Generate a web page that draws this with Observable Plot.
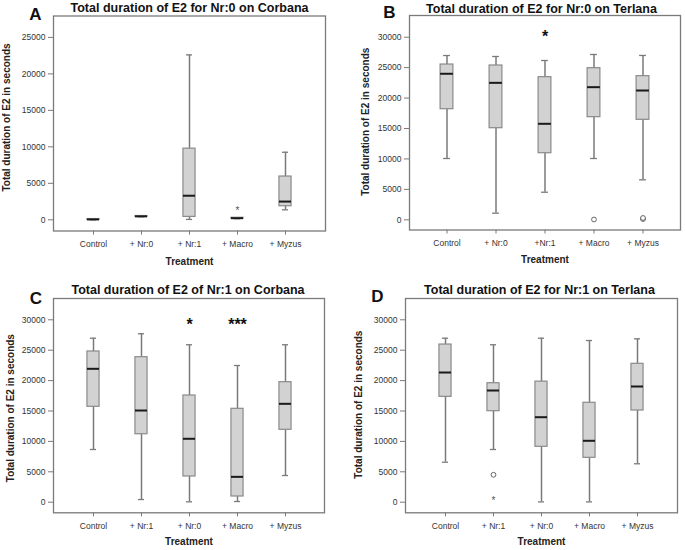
<!DOCTYPE html>
<html><head><meta charset="utf-8">
<script src="https://cdn.jsdelivr.net/npm/d3@7"></script>
<script src="https://cdn.jsdelivr.net/npm/@observablehq/plot@0.6"></script>
<style>
body{margin:0;background:#fff;}
#wrap{position:relative;width:685px;height:550px;overflow:hidden;background:#fff;}
.panel{position:absolute;width:342px;height:275px;}
</style></head><body><div id="wrap"></div>
<script>
// ---------- Data ----------
const yLabel = "Total duration of E2 in seconds";
const xLabel = "Treatment";
const ticksA = [0, 5000, 10000, 15000, 20000, 25000];
const ticksBCD = [0, 5000, 10000, 15000, 20000, 25000, 30000];

// Panel A
const titleA = "Total duration of E2 for Nr:0 on Corbana";
const catsA = ["Control", "+ Nr:0", "+ Nr:1", "+ Macro", "+ Myzus"];
const lowA  = [0, 420, 50, 150, 1370];
const q1A   = [0, 420, 400, 150, 1860];
const medA  = [50, 470, 3300, 220, 2500];
const q3A   = [100, 520, 9750, 280, 5930];
const highA = [100, 520, 22600, 280, 9260];
const outCatA = ["+ Macro"];
const outValA = [1500];
const outSymA = ["*"];
const annCatA = [];
const annValA = [];
const annTextA = [];

// Panel B
const titleB = "Total duration of E2 for Nr:0 on Terlana";
const catsB = ["Control", "+ Nr:0", "+Nr:1", "+ Macro", "+ Myzus"];
const lowB  = [10070, 1090, 4530, 10070, 6570];
const q1B   = [18170, 15050, 10940, 16860, 16430];
const medB  = [23990, 22500, 15770, 21790, 21240];
const q3B   = [25510, 25350, 23430, 24910, 23600];
const highB = [26990, 26830, 26170, 27160, 27000];
const outCatB = ["+ Macro", "+ Myzus", "+ Myzus"];
const outValB = [50, 120, 300];
const outSymB = ["o", "o", "o"];
const annCatB = ["+Nr:1"];
const annValB = [30700];
const annTextB = ["*"];

// Panel C
const titleC = "Total duration of E2 of Nr:1 on Corbana";
const catsC = ["Control", "+ Nr:1", "+ Nr:0", "+ Macro", "+ Myzus"];
const lowC  = [8670, 440, 60, 115, 4390];
const q1C   = [15690, 11180, 4230, 940, 11910];
const medC  = [21940, 15080, 10430, 4170, 16180];
const q3C   = [24790, 23850, 17550, 15360, 19740];
const highC = [26970, 27700, 25890, 22480, 25890];
const outCatC = [];
const outValC = [];
const outSymC = [];
const annCatC = ["+ Nr:0", "+ Macro"];
const annValC = [29720, 29720];
const annTextC = ["*", "***"];

// Panel D
const titleD = "Total duration of E2 for Nr:1 on Terlana";
const catsD = ["Control", "+ Nr:1", "+ Nr:0", "+ Macro", "+ Myzus"];
const lowD  = [6580, 8670, 50, 50, 6320];
const q1D   = [17330, 14970, 9110, 7300, 15080];
const medD  = [21330, 18370, 13980, 10100, 19030];
const q3D   = [25930, 19570, 19830, 16350, 22760];
const highD = [26970, 25890, 26970, 26590, 26870];
const outCatD = ["+ Nr:1", "+ Nr:1"];
const outValD = [4510, 660];
const outSymD = ["o", "*"];
const annCatD = [];
const annValD = [];
const annTextD = [];

// ---------- Layout ----------
const panels = [
  {letter:"A", title:titleA, cats:catsA, low:lowA, q1:q1A, med:medA, q3:q3A, high:highA,
   outCat:outCatA, outVal:outValA, outSym:outSymA, annCat:annCatA, annVal:annValA, annText:annTextA,
   ticks:ticksA, left:0, top:0, ml:53, mr:17, mt:15.5, mb:44.5, ydom:[-1535, 27933], po:0.281,
   titleDx:0, titleDy:-8, letDx:-18, letDy:-1.5, ylDx:-47, ylDy:-6, xlDy:30.5},
  {letter:"B", title:titleB, cats:catsB, low:lowB, q1:q1B, med:medB, q3:q3B, high:highB,
   outCat:outCatB, outVal:outValB, outSym:outSymB, annCat:annCatB, annVal:annValB, annText:annTextB,
   ticks:ticksBCD, left:343, top:0, ml:66, mr:5, mt:15, mb:45.5, ydom:[-1676, 33565], po:0.254,
   titleDx:-3.5, titleDy:-7, letDx:-20, letDy:-2.5, ylDx:-44, ylDy:-1, xlDy:29.5},
  {letter:"C", title:titleC, cats:catsC, low:lowC, q1:q1C, med:medC, q3:q3C, high:highC,
   outCat:outCatC, outVal:outValC, outSym:outSymC, annCat:annCatC, annVal:annValC, annText:annTextC,
   ticks:ticksBCD, left:0, top:275, ml:53, mr:18, mt:23, mb:37.7, ydom:[-1743, 33503], po:0.271,
   titleDx:-1, titleDy:-9, letDx:-17.5, letDy:0.5, ylDx:-43, ylDy:2.5, xlDy:29.4},
  {letter:"D", title:titleD, cats:catsD, low:lowD, q1:q1D, med:medD, q3:q3D, high:highD,
   outCat:outCatD, outVal:outValD, outSym:outSymD, annCat:annCatD, annVal:annValD, annText:annTextD,
   ticks:ticksBCD, left:343, top:275, ml:62, mr:8, mt:23, mb:37.7, ydom:[-1743, 33503], po:0.281,
   titleDx:-2, titleDy:-8.3, letDx:-28, letDy:-2, ylDx:-46.7, ylDy:-1, xlDy:29.4}
];

const W = 342, H = 275;
const boxW = 13, capW = 7;
const grey = "#7a7a7a";

function makePanel(p) {
  const rows = p.cats.map((c, i) => ({cat: c, lo: p.low[i], q1: p.q1[i], med: p.med[i], q3: p.q3[i], hi: p.high[i]}));
  const outs = p.outCat.map((c, i) => ({cat: c, v: p.outVal[i], s: p.outSym[i]}));
  const anns = p.annCat.map((c, i) => ({cat: c, v: p.annVal[i], t: p.annText[i]}));
  const fw = W - p.ml - p.mr;
  const step = fw / (p.cats.length + 2 * p.po);
  const boxInset = (step - boxW) / 2;
  const capInset = (step - capW) / 2;
  const font = "'Liberation Sans', Arial, sans-serif";
  return Plot.plot({
    width: W, height: H,
    marginLeft: p.ml, marginRight: p.mr, marginTop: p.mt, marginBottom: p.mb,
    style: {fontFamily: font, fontSize: "8.5px", color: "#333", background: "transparent", overflow: "visible"},
    x: {type: "band", domain: p.cats, paddingInner: 0, paddingOuter: p.po, align: 0.5},
    y: {domain: p.ydom},
    marks: [
      Plot.frame({stroke: grey, strokeWidth: 1.3}),
      Plot.axisY({ticks: p.ticks, tickSize: 5, tickPadding: 3, label: null, stroke: grey, tickFormat: d3.format("d")}),
      Plot.axisX({tickSize: 4, tickPadding: 6, label: null, stroke: grey}),
      Plot.ruleX(rows, {x: "cat", y1: "lo", y2: "q1", stroke: grey, strokeWidth: 1.5}),
      Plot.ruleX(rows, {x: "cat", y1: "q3", y2: "hi", stroke: grey, strokeWidth: 1.5}),
      Plot.tickY(rows, {x: "cat", y: "lo", stroke: grey, strokeWidth: 1.3, insetLeft: capInset, insetRight: capInset}),
      Plot.tickY(rows, {x: "cat", y: "hi", stroke: grey, strokeWidth: 1.3, insetLeft: capInset, insetRight: capInset}),
      Plot.barY(rows, {x: "cat", y1: "q1", y2: "q3", fill: "#d2d2d2", stroke: "#8a8a8a", strokeWidth: 1.2, insetLeft: boxInset, insetRight: boxInset}),
      Plot.tickY(rows, {x: "cat", y: "med", stroke: "#1a1a1a", strokeWidth: 2, insetLeft: boxInset, insetRight: boxInset}),
      Plot.dot(outs.filter(d => d.s === "o"), {x: "cat", y: "v", r: 2.4, stroke: "#666", fill: "white", strokeWidth: 1}),
      Plot.text(outs.filter(d => d.s === "*"), {x: "cat", y: "v", text: "s", fontSize: 10, fill: "#555", dy: 2.3}),
      Plot.text(anns, {x: "cat", y: "v", text: "t", fontSize: 16, fontWeight: "bold", fill: "#111", dy: 3.7, letterSpacing: "1.5px"}),
      Plot.text([p.title], {frameAnchor: "top", text: d => d, dx: p.titleDx, dy: p.titleDy, fontSize: 12.5, fontWeight: "bold", fill: "#111", lineAnchor: "middle"}),
      Plot.text([p.letter], {frameAnchor: "top-left", text: d => d, dx: p.letDx, dy: p.letDy, fontSize: 17, fontWeight: "bold", fill: "#111", textAnchor: "middle", lineAnchor: "middle"}),
      Plot.text([yLabel], {frameAnchor: "left", text: d => d, dx: p.ylDx, dy: p.ylDy, rotate: -90, fontSize: 10, fontWeight: "bold", fill: "#222", textAnchor: "middle", lineAnchor: "middle"}),
      Plot.text([xLabel], {frameAnchor: "bottom", text: d => d, dy: p.xlDy, fontSize: 10, fontWeight: "bold", fill: "#222", lineAnchor: "middle"})
    ]
  });
}

const wrap = document.getElementById("wrap");
for (const p of panels) {
  const div = document.createElement("div");
  div.className = "panel";
  div.style.left = p.left + "px";
  div.style.top = p.top + "px";
  div.appendChild(makePanel(p));
  wrap.appendChild(div);
}
</script>
</body></html>
